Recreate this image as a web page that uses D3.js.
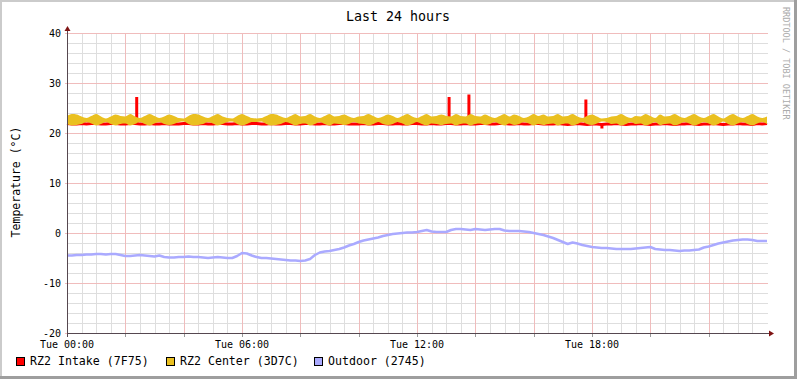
<!DOCTYPE html>
<html>
<head>
<meta charset="utf-8">
<script src="https://cdn.jsdelivr.net/npm/d3@7"></script>
<style>
  body { margin: 0; background: #fff; }
  text { font-family: "DejaVu Sans Mono", monospace; }
</style>
</head>
<body>
<div id="chart"></div>
<script>
// samples every 10 minutes, 00:00 .. 24:00
const intake = [
  21.9, 21.8, 21.8, 21.9, 21.8, 21.9, 21.9, 21.8, 21.8, 21.9,
  21.9, 21.8, 21.8, 21.9, 21.9, 21.8, 21.8, 21.9, 21.8, 21.8,
  21.9, 21.8, 21.8, 21.8, 21.9, 21.9, 21.8, 21.8, 21.9, 21.8,
  21.8, 21.9, 21.9, 21.8, 21.8, 21.9, 21.8, 21.8, 21.9, 21.9,
  21.8, 21.8, 21.9, 21.8, 21.8, 21.9, 21.9, 21.8, 21.8, 21.9,
  21.9, 21.8, 21.8, 21.9, 21.8, 21.8, 21.9, 21.9, 21.8, 21.8,
  21.8, 21.9, 21.8, 21.8, 21.9, 21.9, 21.8, 21.8, 21.9, 21.8,
  21.8, 21.9, 21.9, 21.8, 21.8, 21.9, 21.8, 21.8, 21.9, 21.9,
  21.8, 21.8, 21.9, 21.8, 21.8, 21.9, 21.9, 21.8, 21.8, 21.9,
  21.9, 21.8, 21.8, 21.9, 21.8, 21.8, 21.9, 21.9, 21.8, 21.8,
  21.8, 21.9, 21.8, 21.7, 21.8, 21.9, 21.8, 21.7, 21.8, 21.8,
  21.7, 21.8, 21.8, 21.9, 21.8, 21.7, 21.8, 21.8, 21.9, 21.8,
  21.7, 21.8, 21.8, 21.9, 21.8, 21.7, 21.8, 21.8, 21.9, 21.8,
  21.7, 21.8, 21.8, 21.9, 21.8, 21.7, 21.8, 21.8, 21.9, 21.8,
  21.8, 21.7, 21.9, 21.8, 21.9
];
// short excursions of the intake sensor (hour, value)
const intakeSpikeHours = [2.39, 13.10, 13.78, 17.79, 18.34];
const intakeSpikeValues = [27.2, 27.2, 27.7, 26.7, 20.9];

// center sensor flickers fast, kept as min / max per 10 minutes
const centerHigh = [
  23.4, 23.8, 23.7, 23.3, 23.0, 23.4, 23.8, 23.3, 22.9, 23.3,
  23.7, 23.4, 23.3, 23.8, 23.3, 23.0, 23.4, 23.8, 23.4, 23.0,
  23.3, 23.7, 23.4, 23.0, 22.9, 23.4, 23.8, 23.7, 23.3, 23.0,
  23.4, 23.8, 23.3, 23.0, 22.9, 23.4, 23.8, 23.4, 23.0, 22.9,
  23.0, 23.4, 23.8, 23.7, 23.3, 23.0, 23.4, 23.8, 23.3, 23.4,
  23.8, 23.3, 23.0, 23.4, 23.8, 23.3, 23.4, 23.7, 23.3, 23.0,
  23.3, 23.4, 23.8, 23.4, 23.0, 23.3, 23.7, 23.4, 23.0, 23.4,
  23.8, 23.3, 23.0, 23.4, 23.8, 23.3, 23.4, 23.7, 23.4, 23.3,
  23.8, 23.4, 23.3, 23.8, 23.4, 23.3, 23.7, 23.3, 23.0, 23.4,
  23.8, 23.3, 23.7, 23.4, 23.0, 23.3, 23.8, 23.4, 23.7, 23.3,
  23.4, 23.8, 23.3, 23.4, 23.8, 23.3, 23.0, 23.4, 23.7, 23.3,
  22.9, 23.0, 23.3, 23.4, 23.8, 23.3, 23.0, 23.4, 23.3, 23.8,
  23.4, 23.0, 23.7, 23.3, 23.4, 23.8, 23.3, 23.0, 23.4, 23.8,
  23.3, 23.0, 23.4, 23.8, 23.3, 22.9, 23.4, 23.8, 23.3, 23.0,
  23.4, 23.8, 23.3, 23.0, 23.3
];
const centerLow = [
  21.8, 21.5, 21.6, 21.8, 22.2, 21.9, 21.5, 21.8, 22.2, 21.8,
  21.5, 21.8, 21.9, 21.5, 21.8, 22.2, 21.8, 21.5, 21.9, 22.2,
  21.8, 21.6, 21.8, 22.2, 22.3, 21.8, 21.5, 21.6, 21.8, 22.2,
  21.9, 21.5, 21.8, 22.2, 22.3, 21.8, 21.5, 21.8, 22.2, 22.2,
  22.3, 21.8, 21.5, 21.6, 21.8, 22.2, 21.9, 21.5, 21.8, 21.9,
  21.5, 21.8, 22.2, 21.8, 21.5, 21.9, 21.8, 21.6, 21.8, 22.2,
  21.9, 21.8, 21.5, 21.8, 22.2, 21.8, 21.6, 21.8, 22.2, 21.9,
  21.5, 21.8, 22.2, 21.8, 21.5, 21.9, 21.8, 21.6, 21.8, 21.9,
  21.5, 21.8, 21.9, 21.5, 21.8, 21.9, 21.6, 21.8, 22.2, 21.8,
  21.5, 21.9, 21.6, 21.8, 22.2, 21.9, 21.5, 21.8, 21.6, 21.8,
  21.9, 21.5, 21.8, 21.9, 21.5, 21.8, 22.2, 21.8, 21.6, 21.9,
  22.3, 22.2, 21.8, 21.9, 21.5, 21.8, 22.2, 21.8, 21.9, 21.5,
  21.8, 22.2, 21.6, 21.8, 21.9, 21.5, 21.8, 22.2, 21.9, 21.5,
  21.8, 22.2, 21.9, 21.5, 21.8, 22.3, 21.8, 21.5, 21.9, 22.2,
  21.8, 21.5, 21.9, 22.2, 21.8
];

const outdoor = [
  -4.5, -4.5, -4.4, -4.4, -4.3, -4.3, -4.2, -4.2, -4.3, -4.2,
  -4.2, -4.4, -4.6, -4.6, -4.5, -4.4, -4.5, -4.6, -4.7, -4.5,
  -4.8, -4.9, -4.9, -4.8, -4.8, -4.7, -4.8, -4.8, -4.9, -5.0,
  -4.9, -4.8, -4.9, -5.0, -5.0, -4.6, -4.0, -4.1, -4.5, -4.8,
  -5.0, -5.0, -5.1, -5.2, -5.3, -5.4, -5.5, -5.5, -5.6, -5.5,
  -5.2, -4.4, -3.9, -3.7, -3.6, -3.4, -3.2, -2.9, -2.5, -2.2,
  -1.8, -1.5, -1.3, -1.1, -0.9, -0.6, -0.4, -0.2, -0.1, 0.0,
  0.1, 0.1, 0.2, 0.4, 0.6, 0.3, 0.2, 0.2, 0.2, 0.6,
  0.8, 0.8, 0.7, 0.6, 0.8, 0.7, 0.6, 0.7, 0.8, 0.8,
  0.5, 0.4, 0.4, 0.4, 0.3, 0.2, 0.0, -0.2, -0.4, -0.7,
  -1.0, -1.4, -1.8, -2.2, -1.9, -2.1, -2.4, -2.6, -2.8, -2.9,
  -3.0, -3.0, -3.1, -3.2, -3.2, -3.2, -3.2, -3.1, -3.0, -2.9,
  -2.8, -3.2, -3.3, -3.4, -3.4, -3.5, -3.6, -3.5, -3.5, -3.4,
  -3.3, -2.9, -2.7, -2.4, -2.1, -1.9, -1.7, -1.5, -1.4, -1.3,
  -1.3, -1.4, -1.6, -1.6, -1.6
];

const yTicks = [-20, -10, 0, 10, 20, 30, 40];
const xTickHours = [0, 6, 12, 18];
const xTickLabels = ["Tue 00:00", "Tue 06:00", "Tue 12:00", "Tue 18:00"];
const legendNames = ["RZ2 Intake (7F75)", "RZ2 Center (3D7C)", "Outdoor (2745)"];
const legendColors = ["#ff0000", "#eac020", "#aaaaff"];

const width = 797, height = 379;
const plotLeft = 67, plotRight = 767, plotTop = 33, plotBottom = 333;

const svg = d3.select("#chart").append("svg")
    .attr("width", width)
    .attr("height", height);

// background and rrd style frame
svg.append("rect").attr("width", width).attr("height", height).attr("fill", "#fff");
svg.append("rect").attr("x", 0).attr("y", 0).attr("width", width).attr("height", 2).attr("fill", "#cbcbcb");
svg.append("rect").attr("x", 0).attr("y", 0).attr("width", 2).attr("height", height).attr("fill", "#cbcbcb");
svg.append("rect").attr("x", 0).attr("y", height - 3).attr("width", width).attr("height", 3).attr("fill", "#9e9e9e");
svg.append("rect").attr("x", width - 3).attr("y", 0).attr("width", 3).attr("height", height).attr("fill", "#9e9e9e");

const x = d3.scaleLinear().domain([0, 24]).range([plotLeft, plotRight]);
const y = d3.scaleLinear().domain([-20, 40]).range([plotBottom, plotTop]);
const px = v => Math.round(v) + 0.5;

// minor grid: every 30 min, every 2 degrees
const grid = svg.append("g");
grid.selectAll(".vmin")
    .data(d3.range(0, 24, 0.5).filter(h => h % 2 !== 0))
    .enter().append("line")
    .attr("x1", d => px(x(d))).attr("x2", d => px(x(d)))
    .attr("y1", plotTop).attr("y2", plotBottom)
    .attr("stroke", "#dedede");
grid.selectAll(".hmin")
    .data(d3.range(-18, 41, 2).filter(v => v % 10 !== 0))
    .enter().append("line")
    .attr("x1", plotLeft).attr("x2", plotRight + 1)
    .attr("y1", d => px(y(d))).attr("y2", d => px(y(d)))
    .attr("stroke", "#dedede");
// major grid: every 2 hours, every 10 degrees
grid.selectAll(".vmaj")
    .data(d3.range(2, 24, 2))
    .enter().append("line")
    .attr("x1", d => px(x(d))).attr("x2", d => px(x(d)))
    .attr("y1", plotTop).attr("y2", plotBottom)
    .attr("stroke", "#f0bcbc");
grid.selectAll(".hmaj")
    .data(yTicks)
    .enter().append("line")
    .attr("x1", plotLeft - 2).attr("x2", plotRight + 1)
    .attr("y1", d => px(y(d))).attr("y2", d => px(y(d)))
    .attr("stroke", "#f0bcbc");
// small ticks under the time axis
grid.selectAll(".xt")
    .data(d3.range(2, 24, 2))
    .enter().append("line")
    .attr("x1", d => px(x(d))).attr("x2", d => px(x(d)))
    .attr("y1", plotBottom + 1).attr("y2", plotBottom + 4)
    .attr("stroke", "#9a9a9a");

// series
const hour = i => i / 6;

svg.append("path")
    .datum(intake)
    .attr("fill", "none")
    .attr("stroke", legendColors[0])
    .attr("stroke-width", 3)
    .attr("d", d3.line().x((d, i) => x(hour(i))).y(d => y(d)));

svg.append("g").selectAll("line")
    .data(intakeSpikeHours)
    .enter().append("line")
    .attr("x1", d => x(d)).attr("x2", d => x(d))
    .attr("y1", d => y(intake[Math.round(d * 6)]))
    .attr("y2", (d, i) => y(intakeSpikeValues[i]))
    .attr("stroke", legendColors[0])
    .attr("stroke-width", 3);

svg.append("path")
    .datum(centerHigh)
    .attr("fill", legendColors[1])
    .attr("d", d3.area()
        .curve(d3.curveMonotoneX)
        .x((d, i) => x(hour(i)))
        .y0((d, i) => y(centerLow[i]))
        .y1(d => y(d)));

svg.append("path")
    .datum(outdoor)
    .attr("fill", "none")
    .attr("stroke", legendColors[2])
    .attr("stroke-width", 2.5)
    .attr("stroke-linejoin", "round")
    .attr("d", d3.line().x((d, i) => x(hour(i))).y(d => y(d)));

// axes with arrows
const axisColor = "#564850";
svg.append("line")
    .attr("x1", plotLeft).attr("x2", plotRight + 4)
    .attr("y1", px(y(-20))).attr("y2", px(y(-20)))
    .attr("stroke", axisColor);
svg.append("line")
    .attr("x1", px(x(0))).attr("x2", px(x(0)))
    .attr("y1", plotBottom + 4).attr("y2", plotTop - 3)
    .attr("stroke", axisColor);
svg.append("path")
    .attr("d", `M${plotRight + 2},${plotBottom - 2.5}L${plotRight + 7},${plotBottom + 0.5}L${plotRight + 2},${plotBottom + 3.5}Z`)
    .attr("fill", "#7f1414");
svg.append("path")
    .attr("d", `M${plotLeft - 2.5},${plotTop - 2}L${plotLeft + 0.5},${plotTop - 7}L${plotLeft + 3.5},${plotTop - 2}Z`)
    .attr("fill", "#7f1414");

// tick labels
svg.append("g").selectAll("text")
    .data(yTicks)
    .enter().append("text")
    .attr("x", 61)
    .attr("y", d => y(d) + 4)
    .attr("text-anchor", "end")
    .style("font-size", "10px")
    .text(d => d);

svg.append("g").selectAll("text")
    .data(xTickHours)
    .enter().append("text")
    .attr("x", d => x(d))
    .attr("y", 348)
    .attr("text-anchor", "middle")
    .style("font-size", "10px")
    .text((d, i) => xTickLabels[i]);

// title, axis label, watermark
svg.append("text")
    .attr("x", 398).attr("y", 21)
    .attr("text-anchor", "middle")
    .style("font-size", "13.3px")
    .text("Last 24 hours");

svg.append("text")
    .attr("transform", "translate(20,182) rotate(-90)")
    .attr("text-anchor", "middle")
    .style("font-size", "11.5px")
    .text("Temperature (°C)");

svg.append("text")
    .attr("transform", "translate(783,7) rotate(90)")
    .style("font-size", "8.5px")
    .attr("fill", "#aaaaaa")
    .text("RRDTOOL / TOBI OETIKER");

// legend
const legendX = [16, 166, 314];
const legend = svg.append("g").selectAll("g")
    .data(legendNames)
    .enter().append("g")
    .attr("transform", (d, i) => `translate(${legendX[i]},0)`);
legend.append("rect")
    .attr("x", 0.5).attr("y", 357.5)
    .attr("width", 8).attr("height", 8)
    .attr("fill", (d, i) => legendColors[i])
    .attr("stroke", "#000");
legend.append("text")
    .attr("x", 14).attr("y", 365)
    .style("font-size", "11.6px")
    .text(d => d);
</script>
</body>
</html>
